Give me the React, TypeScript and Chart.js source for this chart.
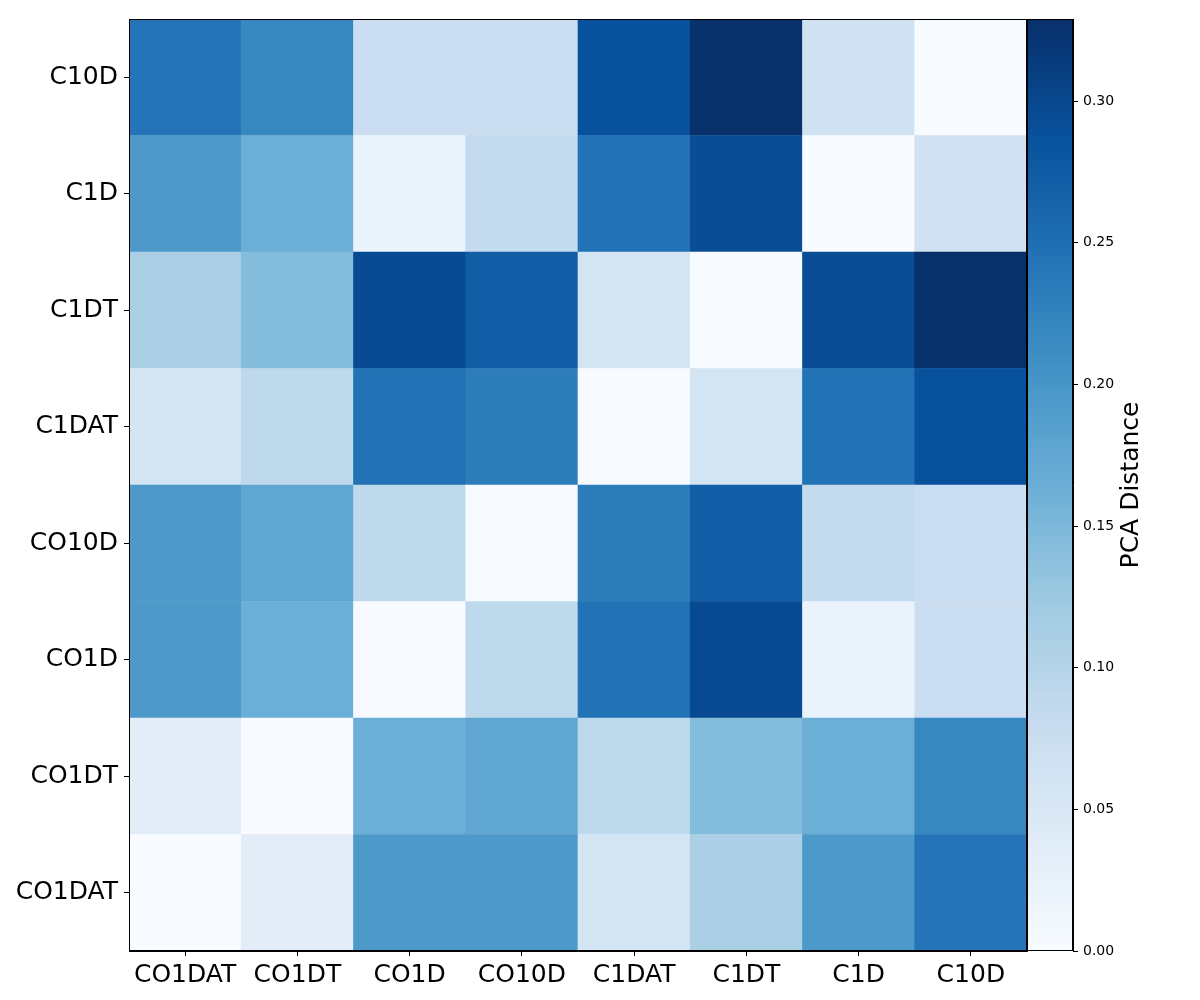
import React, { useEffect, useRef } from "react";
import { Chart, registerables } from "chart.js";

Chart.register(...registerables);

// Column / row categories (rows listed bottom-up, same order as columns)
const CATEGORIES = ["CO1DAT", "CO1DT", "CO1D", "CO10D", "C1DAT", "C1DT", "C1D", "C10D"];

// Each row's PCA distance to the columns (CO1DAT ... C10D)
const ROW_CO1DAT = [0.0, 0.035, 0.195, 0.195, 0.06, 0.11, 0.195, 0.243];
const ROW_CO1DT = [0.035, 0.0, 0.165, 0.176, 0.09, 0.144, 0.165, 0.219];
const ROW_CO1D = [0.195, 0.165, 0.0, 0.09, 0.245, 0.296, 0.021, 0.074];
const ROW_CO10D = [0.195, 0.176, 0.09, 0.0, 0.232, 0.271, 0.084, 0.074];
const ROW_C1DAT = [0.06, 0.09, 0.245, 0.232, 0.0, 0.06, 0.245, 0.288];
const ROW_C1DT = [0.11, 0.144, 0.296, 0.271, 0.06, 0.0, 0.293, 0.329];
const ROW_C1D = [0.195, 0.165, 0.021, 0.084, 0.245, 0.293, 0.0, 0.065];
const ROW_C10D = [0.243, 0.219, 0.074, 0.074, 0.288, 0.329, 0.065, 0.0];

const ROWS_BOTTOM_UP = [ROW_CO1DAT, ROW_CO1DT, ROW_CO1D, ROW_CO10D, ROW_C1DAT, ROW_C1DT, ROW_C1D, ROW_C10D];

const VMIN = 0;
const VMAX = 0.329;
const COLORBAR_TICKS = [0, 0.05, 0.1, 0.15, 0.2, 0.25, 0.3];
const COLORBAR_LABEL = "PCA Distance";

const FONT = "'DejaVu Sans', sans-serif";

// matplotlib "Blues" colormap anchors
const BLUES: number[][] = [
  [247, 251, 255],
  [222, 235, 247],
  [198, 219, 239],
  [158, 202, 225],
  [107, 174, 214],
  [66, 146, 198],
  [33, 113, 181],
  [8, 81, 156],
  [8, 48, 107],
];

function rgb(c: number[]) {
  return `rgb(${Math.round(c[0])},${Math.round(c[1])},${Math.round(c[2])})`;
}

function blues(t: number) {
  const x = Math.max(0, Math.min(1, t)) * (BLUES.length - 1);
  const i = Math.min(BLUES.length - 2, Math.floor(x));
  const f = x - i;
  const a = BLUES[i];
  const b = BLUES[i + 1];
  return rgb([a[0] + (b[0] - a[0]) * f, a[1] + (b[1] - a[1]) * f, a[2] + (b[2] - a[2]) * f]);
}

const framePlugin = {
  id: "frame",
  afterDraw(chart: any) {
    const { ctx, chartArea } = chart;
    ctx.save();
    ctx.strokeStyle = "#000";
    ctx.lineWidth = 1;
    ctx.strokeRect(
      Math.round(chartArea.left) + 0.5,
      Math.round(chartArea.top) + 0.5,
      Math.round(chartArea.right - chartArea.left) - 1,
      Math.round(chartArea.bottom - chartArea.top) - 1
    );
    ctx.restore();
  },
};

const cbLabelPlugin = {
  id: "cbLabel",
  afterDraw(chart: any) {
    const { ctx, chartArea } = chart;
    ctx.save();
    ctx.translate(chartArea.right + 58, (chartArea.top + chartArea.bottom) / 2);
    ctx.rotate(-Math.PI / 2);
    ctx.fillStyle = "#000";
    ctx.font = `25px ${FONT}`;
    ctx.textAlign = "center";
    ctx.textBaseline = "middle";
    ctx.fillText(COLORBAR_LABEL, 0, 0);
    ctx.restore();
  },
};

export default function App() {
  const mainRef = useRef<HTMLCanvasElement | null>(null);
  const cbRef = useRef<HTMLCanvasElement | null>(null);

  useEffect(() => {
    if (!mainRef.current || !cbRef.current) return;

    const main = new Chart(mainRef.current, {
      type: "bar",
      data: {
        labels: CATEGORIES,
        datasets: ROWS_BOTTOM_UP.map((row, r) => ({
          label: CATEGORIES[r],
          data: row.map(() => [r, r + 1]),
          backgroundColor: row.map((v) => blues((v - VMIN) / (VMAX - VMIN))),
          borderWidth: 0,
          barPercentage: 1,
          categoryPercentage: 1,
          grouped: false,
        })) as any,
      },
      options: {
        responsive: false,
        maintainAspectRatio: false,
        animation: false,
        devicePixelRatio: 1,
        layout: { padding: { top: 19, right: 3, left: 0, bottom: 0 } },
        plugins: { legend: { display: false }, tooltip: { enabled: false } },
        scales: {
          x: {
            type: "category",
            offset: true,
            grid: { offset: false, drawOnChartArea: false, tickLength: 5, color: "#000", tickWidth: 1 },
            border: { color: "#000", width: 1 },
            ticks: {
              color: "#000",
              font: { family: FONT, size: 25 },
              padding: 4,
              maxRotation: 0,
              minRotation: 0,
              autoSkip: false,
            },
            afterFit: (s: any) => {
              s.height = 49;
              s.paddingLeft = 0;
              s.paddingRight = 0;
            },
          },
          y: {
            type: "linear",
            min: 0,
            max: CATEGORIES.length,
            afterBuildTicks: (s: any) => {
              s.ticks = CATEGORIES.map((_, i) => ({ value: i + 0.5 }));
            },
            grid: { drawOnChartArea: false, tickLength: 5, color: "#000", tickWidth: 1 },
            border: { color: "#000", width: 1 },
            ticks: {
              color: "#000",
              font: { family: FONT, size: 25 },
              padding: 6,
              callback: (v: any) => CATEGORIES[Math.floor(Number(v))],
            },
            afterFit: (s: any) => {
              s.width = 129;
              s.paddingTop = 0;
              s.paddingBottom = 0;
            },
          },
        },
      } as any,
      plugins: [framePlugin],
    });

    const cb = new Chart(cbRef.current, {
      type: "bar",
      data: {
        labels: [COLORBAR_LABEL],
        datasets: [
          {
            data: [[VMIN, VMAX]] as any,
            backgroundColor: (ctx: any) => {
              const chart = ctx.chart;
              const y = chart.scales?.y;
              if (!chart.chartArea || !y) return blues(0.5);
              const g = chart.ctx.createLinearGradient(0, y.getPixelForValue(VMIN), 0, y.getPixelForValue(VMAX));
              BLUES.forEach((c, i) => g.addColorStop(i / (BLUES.length - 1), rgb(c)));
              return g;
            },
            borderWidth: 0,
            barPercentage: 1,
            categoryPercentage: 1,
          },
        ],
      },
      options: {
        responsive: false,
        maintainAspectRatio: false,
        animation: false,
        devicePixelRatio: 1,
        layout: { padding: { top: 19, right: 0, left: 27, bottom: 49 } },
        plugins: { legend: { display: false }, tooltip: { enabled: false } },
        scales: {
          x: { display: false },
          y: {
            position: "right",
            min: VMIN,
            max: VMAX,
            afterBuildTicks: (s: any) => {
              s.ticks = COLORBAR_TICKS.map((v) => ({ value: v }));
            },
            grid: { drawOnChartArea: false, tickLength: 5, color: "#000", tickWidth: 1 },
            border: { color: "#000", width: 1 },
            ticks: {
              color: "#000",
              font: { family: FONT, size: 14 },
              padding: 5,
              callback: (v: any) => Number(v).toFixed(2),
            },
            afterFit: (s: any) => {
              s.width = 127;
              s.paddingTop = 0;
              s.paddingBottom = 0;
            },
          },
        },
      } as any,
      plugins: [framePlugin, cbLabelPlugin],
    });

    return () => {
      main.destroy();
      cb.destroy();
    };
  }, []);

  return (
    <div style={{ position: "absolute", left: 0, top: 0, width: 1200, height: 1000, background: "#fff" }}>
      <canvas
        ref={mainRef}
        width={1030}
        height={1000}
        style={{ position: "absolute", left: 0, top: 0, width: 1030, height: 1000, display: "block" }}
      />
      <canvas
        ref={cbRef}
        width={200}
        height={1000}
        style={{ position: "absolute", left: 1000, top: 0, width: 200, height: 1000, display: "block" }}
      />
    </div>
  );
}
